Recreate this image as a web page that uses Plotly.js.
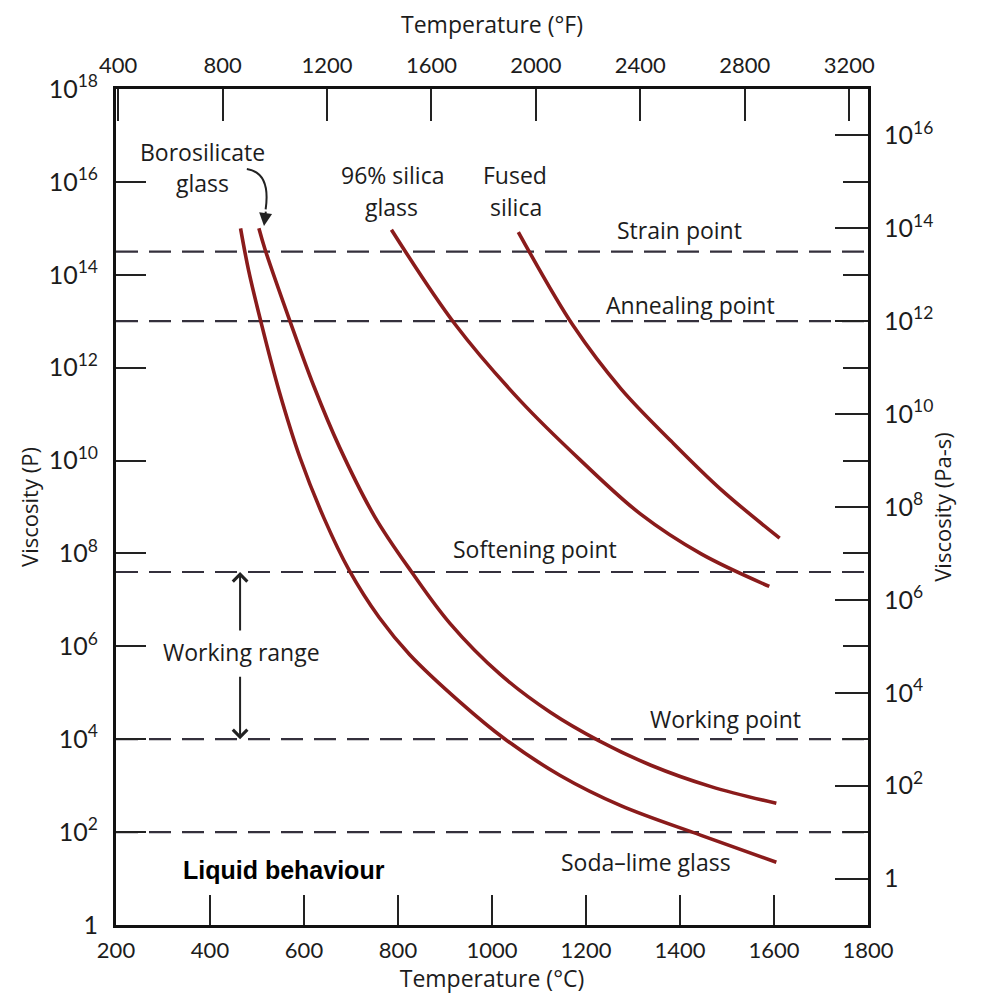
<!DOCTYPE html>
<html>
<head>
<meta charset="utf-8">
<script src="https://cdn.plot.ly/plotly-3.0.1.min.js"></script>
<style>html,body{margin:0;padding:0;background:#fff;}#chart{width:985px;height:994px;}</style>
</head>
<body>
<div id="chart"></div>
<script>
// ---- Data (temperature in °C, viscosity as log10 of poise) ----
const sodaLimeT = [465, 482, 508, 547, 592, 643, 696, 760, 825, 932, 1028, 1145, 1274, 1445, 1605];
const sodaLimeLogVisc = [15.0, 14.1, 13.0, 11.5, 10.05, 8.75, 7.64, 6.62, 5.82, 4.8, 4.0, 3.22, 2.57, 1.93, 1.35];

const borosilicateT = [504, 517, 572, 621, 675, 750, 829, 910, 1017, 1124, 1227, 1338, 1466, 1605];
const borosilicateLogVisc = [15.0, 14.55, 12.95, 11.6, 10.3, 8.8, 7.6, 6.5, 5.4, 4.58, 3.97, 3.44, 2.98, 2.62];

const silica96T = [786, 921, 1060, 1188, 1317, 1445, 1590];
const silica96LogVisc = [14.97, 12.94, 11.29, 10.01, 8.84, 7.99, 7.29];

const fusedSilicaT = [1056, 1173, 1274, 1381, 1488, 1612];
const fusedSilicaLogVisc = [14.92, 12.9, 11.55, 10.42, 9.37, 8.33];

// Reference viscosity levels (log10 poise)
const levelNames = ['Strain point', 'Annealing point', 'Softening point', 'Working point', 'Liquid'];
const levelLogVisc = [14.5, 13.0, 7.6, 4.0, 2.0];

// Axis ticks
const celsiusTicks = [200, 400, 600, 800, 1000, 1200, 1400, 1600, 1800];
const fahrenheitTicks = [400, 800, 1200, 1600, 2000, 2400, 2800, 3200];
const poiseTickExps = [0, 2, 4, 6, 8, 10, 12, 14, 16, 18];
const pasTickExps = [0, 2, 4, 6, 8, 10, 12, 14, 16];
const pasMinorExps = [1, 3, 5, 7, 9, 11, 13, 15];

// ---- helpers ----
const pow10 = a => a.map(v => Math.pow(10, v));
const powLabel = e => e === 0 ? '1' : '10<sup>' + e + '</sup>';
const C2F = c => c * 9 / 5 + 32;

const curveColor = '#8a1b1b';
const dashColor = '#34303c';
const ink = '#1c1c1c';
const TICKFONT = 'Lato, "Open Sans", "DejaVu Sans", sans-serif';
const FONT = '"Open Sans", Lato, "DejaVu Sans", sans-serif';

function curve(T, L) {
  return {x: T, y: pow10(L), xaxis: 'x', yaxis: 'y', mode: 'lines',
    line: {color: curveColor, width: 3.6, shape: 'spline', smoothing: 1.0},
    hoverinfo: 'skip', showlegend: false};
}

const traces = [];
levelLogVisc.forEach((v, i) => {
  traces.push({x: [celsiusTicks[0], celsiusTicks[celsiusTicks.length - 1]], y: [Math.pow(10, v), Math.pow(10, v)],
    xaxis: 'x', yaxis: 'y', mode: 'lines', name: levelNames[i],
    line: {color: dashColor, width: 2.2, dash: '22px,11px'}, hoverinfo: 'skip', showlegend: false});
});
traces.push(curve(sodaLimeT, sodaLimeLogVisc));
traces.push(curve(borosilicateT, borosilicateLogVisc));
traces.push(curve(silica96T, silica96LogVisc));
traces.push(curve(fusedSilicaT, fusedSilicaLogVisc));
// mirror trace on °F / Pa-s axes (invisible) so the secondary axes are active
traces.push({x: fusedSilicaT.map(C2F), y: pow10(fusedSilicaLogVisc).map(v => v / 10),
  xaxis: 'x2', yaxis: 'y2', mode: 'lines', line: {width: 0, color: 'rgba(0,0,0,0)'},
  hoverinfo: 'skip', showlegend: false});

const axisCommon = {
  showgrid: false, zeroline: false, showline: true, linecolor: '#111', linewidth: 3,
  ticks: 'inside', tickcolor: '#222', tickwidth: 2,
  tickfont: {family: TICKFONT, size: 22, color: ink}
};

function lbl(text, x, y, extra) {
  return Object.assign({text: text, x: x, y: y, xref: 'x', yref: 'y', showarrow: false,
    font: {family: FONT, size: 23, color: ink}, xanchor: 'center', yanchor: 'middle'}, extra || {});
}

const annotations = [
  lbl('Borosilicate', 385, 16.64),
  lbl('glass', 385, 15.98),
  lbl('96% silica', 789, 16.15),
  lbl('glass', 787, 15.46),
  lbl('Fused', 1049, 16.15),
  lbl('silica', 1051, 15.46),
  lbl(levelNames[0], 1398, 14.96),
  lbl(levelNames[1], 1423, 13.35),
  lbl(levelNames[2], 1091, 8.09),
  lbl('Working range', 466, 5.88),
  lbl(levelNames[3], 1496, 4.43),
  lbl('Soda–lime glass', 1328, 1.36),
  lbl('<b>Liquid behaviour</b>', 557, 1.18, {font: {family: 'Liberation Sans, Arial, sans-serif', size: 25, color: '#000'}}),
  // working range arrows
  {x: 464, y: levelLogVisc[2], xref: 'x', yref: 'y', ax: 464, ay: 6.31, axref: 'x', ayref: 'y',
    showarrow: true, arrowhead: 4, arrowsize: 1.4, arrowwidth: 2, arrowcolor: '#222', text: ''},
  {x: 464, y: levelLogVisc[3], xref: 'x', yref: 'y', ax: 464, ay: 5.38, axref: 'x', ayref: 'y',
    showarrow: true, arrowhead: 4, arrowsize: 1.4, arrowwidth: 2, arrowcolor: '#222', text: ''},
  // borosilicate pointer head
  {x: 0.1968, y: 0.8361, xref: 'paper', yref: 'paper', ax: 2, ay: -16,
    showarrow: true, arrowhead: 2, arrowsize: 1.3, arrowwidth: 2, arrowcolor: '#222', text: ''}
];

const shapes = [
  {type: 'path', xref: 'paper', yref: 'paper',
    path: 'M 0.1740 0.9043 Q 0.2060 0.9000 0.1990 0.8560',
    line: {color: '#222', width: 2}}
];

const layout = {
  width: 985, height: 994,
  margin: {l: 116, r: 117, t: 89, b: 69},
  paper_bgcolor: '#fff', plot_bgcolor: '#fff',
  showlegend: false,
  xaxis: Object.assign({}, axisCommon, {
    range: [200, 1800], tickvals: celsiusTicks, ticklen: 30, ticklabelstandoff: 4,
    title: {text: 'Temperature (°C)', font: {family: FONT, size: 23, color: ink}, standoff: 16}
  }),
  xaxis2: Object.assign({}, axisCommon, {
    overlaying: 'x', side: 'top', anchor: 'y',
    range: [C2F(200), C2F(1800)], tickvals: fahrenheitTicks, ticklen: 32, ticklabelstandoff: 4,
    title: {text: 'Temperature (°F)', font: {family: FONT, size: 23, color: ink}, standoff: 12}
  }),
  yaxis: Object.assign({}, axisCommon, {
    type: 'log', range: [0, 18], tickvals: pow10(poiseTickExps), ticktext: poiseTickExps.map(powLabel),
    ticklen: 30, ticklabelstandoff: 10, tickfont: {family: TICKFONT, size: 25, color: ink},
    title: {text: 'Viscosity (P)', font: {family: FONT, size: 22, color: ink}, standoff: 4}
  }),
  yaxis2: Object.assign({}, axisCommon, {
    type: 'log', overlaying: 'y', side: 'right', anchor: 'x', range: [-1, 17],
    tickvals: pow10(pasTickExps), ticktext: pasTickExps.map(powLabel), ticklen: 33, ticklabelstandoff: 8,
    tickfont: {family: TICKFONT, size: 25, color: ink},
    minor: {tickvals: pow10(pasMinorExps), ticks: 'inside', ticklen: 25, tickwidth: 2, tickcolor: '#222'},
    title: {text: 'Viscosity (Pa-s)', font: {family: FONT, size: 22, color: ink}, standoff: 4}
  }),
  annotations: annotations,
  shapes: shapes
};

Plotly.newPlot('chart', traces, layout, {displayModeBar: false, staticPlot: true});
</script>
</body>
</html>
